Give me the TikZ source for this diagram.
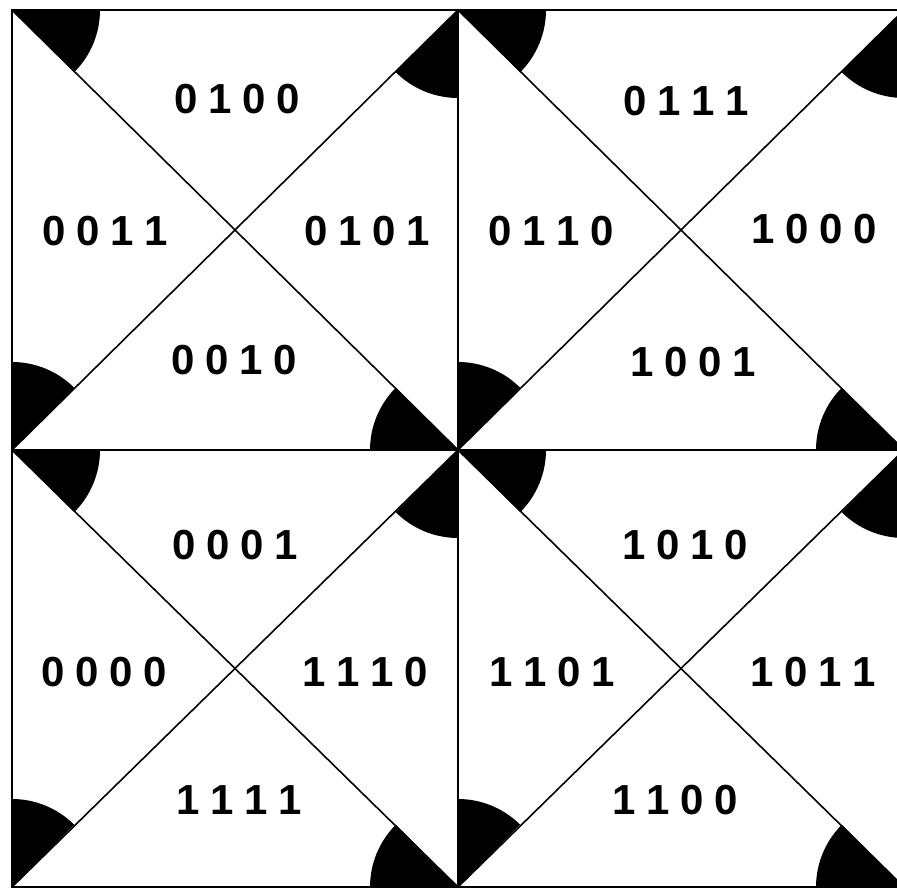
\documentclass[tikz,border=0pt]{standalone}
\usepackage{fontspec}
\newfontfamily\labfont{Liberation Sans}
\def\digs#1{\ifx#1\relax\else\makebox[34pt][c]{#1}\expandafter\digs\fi}
\newcommand{\lab}[1]{\digs#1\relax}
\begin{document}
\begin{tikzpicture}[x=1pt,y=1pt,
  frame/.style={line width=1.9pt},
  diag/.style={line width=1.6pt},
  wedge/.style={fill=black},
  code/.style={font=\labfont\bfseries\fontsize{42}{42}\selectfont, inner sep=0pt}]
\useasboundingbox (0,0) rectangle (897,890);
\clip (0,0) rectangle (897,890);
% squares
\foreach \xa/\xb/\ya/\yb in {12/458/440/880, 458/904/440/880, 12/458/3/440, 458/904/3/440}{
  \draw[diag] (\xa,\yb) -- (\xb,\ya);
  \draw[diag] (\xb,\yb) -- (\xa,\ya);
  \fill[wedge] (\xa,\yb) -- ++(-45:88) arc[start angle=-45, end angle=0, radius=88] -- cycle;
  \fill[wedge] (\xb,\yb) -- ++(-135:88) arc[start angle=-135, end angle=-90, radius=88] -- cycle;
  \fill[wedge] (\xb,\ya) -- ++(135:88) arc[start angle=135, end angle=180, radius=88] -- cycle;
  \fill[wedge] (\xa,\ya) -- ++(45:88) arc[start angle=45, end angle=90, radius=88] -- cycle;
}
\draw[frame] (12,3) rectangle (904,880);
\draw[frame] (458,3) -- (458,880);
\draw[frame] (12,440) -- (904,440);
% labels
\node[code] (a1) at (237,791) {\lab{0100}};
\node[code] (a2) at (105,659) {\lab{0011}};
\node[code] (a3) at (367,659) {\lab{0101}};
\node[code] (a4) at (234,530) {\lab{0010}};
\node[code] (b1) at (686,789) {\lab{0111}};
\node[code] (b2) at (551,659) {\lab{0110}};
\node[code] (b3) at (814,661) {\lab{1000}};
\node[code] (b4) at (693,528) {\lab{1001}};
\node[code] (c1) at (235,345) {\lab{0001}};
\node[code] (c2) at (104,218) {\lab{0000}};
\node[code] (c3) at (365,218) {\lab{1110}};
\node[code] (c4) at (239,90) {\lab{1111}};
\node[code] (d1) at (685,345) {\lab{1010}};
\node[code] (d2) at (552,218) {\lab{1101}};
\node[code] (d3) at (813,218) {\lab{1011}};
\node[code] (d4) at (675,90) {\lab{1100}};
\end{tikzpicture}
\end{document}
